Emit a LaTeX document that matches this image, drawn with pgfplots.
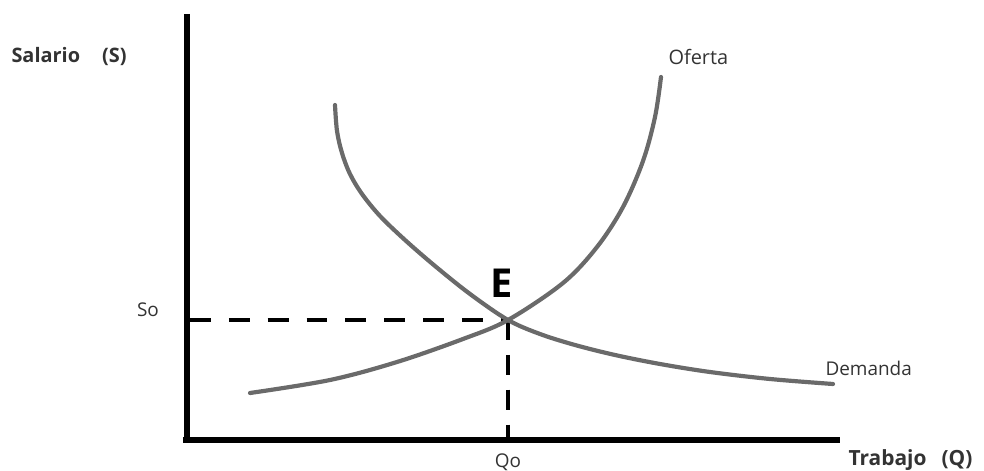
\documentclass[border=0pt]{standalone}
\usepackage{pgfplots}
\pgfplotsset{compat=1.18}
\usepackage{fontspec}
\setmainfont{Open Sans}
\definecolor{curve}{HTML}{6A6A6A}
\definecolor{txt}{HTML}{333333}
\begin{document}
\begin{tikzpicture}
\begin{axis}[
  width=984bp, height=471bp, scale only axis,
  xmin=0, xmax=984, ymin=0, ymax=471,
  hide axis, clip=false,
]
\path[use as bounding box] (rel axis cs:0,0) rectangle (rel axis cs:1,1);
% axes
\addplot[black, line width=5.5pt, no marks] coordinates {(187,457) (187,31)};
\addplot[black, line width=5.5pt, no marks] coordinates {(183,31) (840,31)};
% dashed guides
\addplot[black, line width=3.4pt, dash pattern=on 21pt off 18pt, no marks] coordinates {(190,151) (508,151)};
\addplot[black, line width=3.4pt, dash pattern=on 20pt off 15pt, no marks] coordinates {(508,151) (508,34)};
% supply (Oferta)
\addplot[curve, line width=4.2pt, smooth, tension=0.55, no marks, line cap=round] coordinates {
(250,78) (330,91) (397,109) (463,132) (508,151) (563,188) (597,224) (623,264) (643,310) (655,354) (661,394)};
% demand (Demanda)
\addplot[curve, line width=4.2pt, smooth, tension=0.55, no marks, line cap=round] coordinates {
(335,366) (337,340) (342,318) (350,297) (362,277) (380,255) (405,231) (435,205) (470,177) (508,151) (540,137) (575,126) (615,116) (660,107) (710,99) (770,92) (833,87)};
% labels
\node[anchor=west, font=\fontsize{20}{22}\selectfont\bfseries, text=txt] at (axis cs:8,414) {Salario\hspace{22bp}(S)};
\node[anchor=west, font=\fontsize{20}{22}\selectfont, text=txt] at (axis cs:665,414) {Oferta};
\node[font=\fontsize{40}{44}\selectfont\bfseries] at (axis cs:502,188) {E};
\node[font=\fontsize{19}{22}\selectfont, text=txt] at (axis cs:148,161) {So};
\node[anchor=west, font=\fontsize{19}{22}\selectfont, text=txt] at (axis cs:822,103) {Demanda};
\node[font=\fontsize{19}{22}\selectfont, text=txt] at (axis cs:508,9) {Qo};
\node[anchor=west, font=\fontsize{21}{22}\selectfont\bfseries, text=txt] at (axis cs:845,11) {Trabajo\hspace{15bp}(Q)};
\end{axis}
\end{tikzpicture}
\end{document}
